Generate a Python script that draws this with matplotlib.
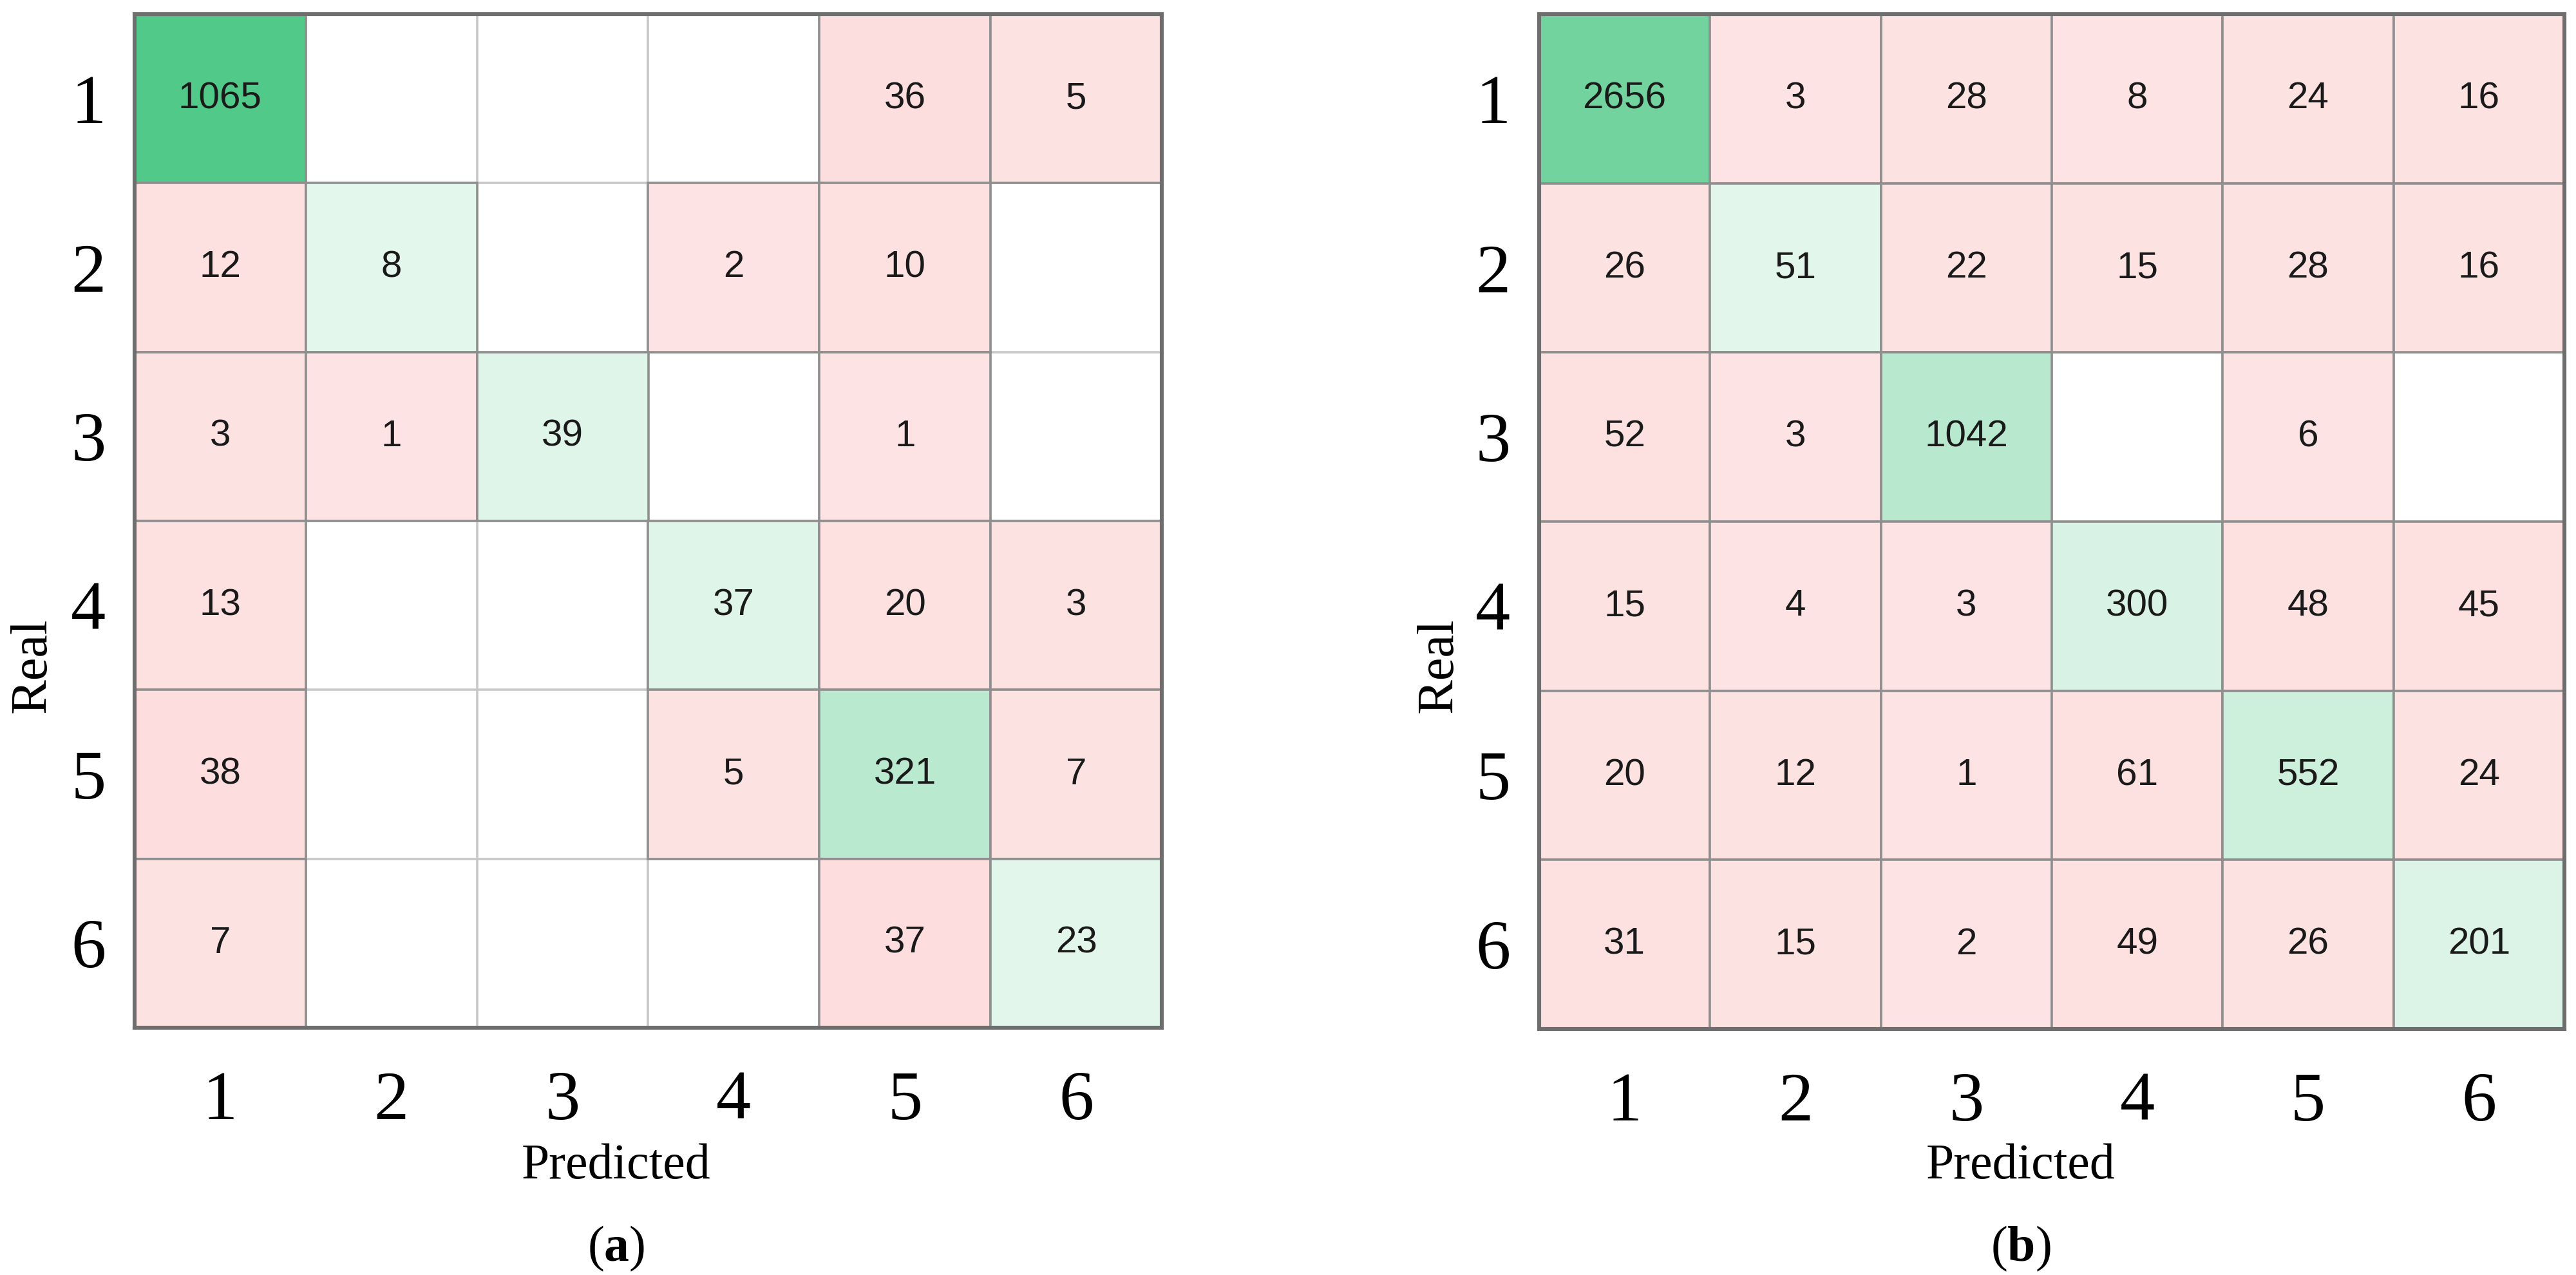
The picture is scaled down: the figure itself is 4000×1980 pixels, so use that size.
import numpy as np
import matplotlib
matplotlib.use("Agg")
import matplotlib.pyplot as plt
from matplotlib.patches import Rectangle

plt.rcParams["mathtext.fontset"] = "custom"
plt.rcParams["mathtext.rm"] = "Liberation Serif"
plt.rcParams["mathtext.bf"] = "Liberation Serif:bold"

classes = ["1", "2", "3", "4", "5", "6"]

cm_a = np.array([
    [1065, 0, 0, 0, 36, 5],
    [12, 8, 0, 2, 10, 0],
    [3, 1, 39, 0, 1, 0],
    [13, 0, 0, 37, 20, 3],
    [38, 0, 0, 5, 321, 7],
    [7, 0, 0, 0, 37, 23],
])

cm_b = np.array([
    [2656, 3, 28, 8, 24, 16],
    [26, 51, 22, 15, 28, 16],
    [52, 3, 1042, 0, 6, 0],
    [15, 4, 3, 300, 48, 45],
    [20, 12, 1, 61, 552, 24],
    [31, 15, 2, 49, 26, 201],
])

captions = ["a", "b"]
xlabel = "Predicted"
ylabel = "Real"

GREEN = np.array([20, 182, 95]) / 255.0
RED = np.array([237, 0, 0]) / 255.0
WHITE = np.ones(3)

SERIF = ["Liberation Serif", "DejaVu Serif"]
SANS = ["Liberation Sans", "DejaVu Sans"]

W, H = 4000, 1980
fig = plt.figure(figsize=(W / 200, H / 200), dpi=200)

# axes boxes in pixels (left, right, top, bottom)
boxes = [(209, 1804, 22, 1596), (2390, 3982, 22, 1598)]
label_x = [957, 3138]
real_x = [51, 2235]


def cell_color(v, total, diag):
    if v == 0:
        return WHITE
    a = 0.11 + v / total
    a = min(a, 1.0)
    base = GREEN if diag else RED
    return WHITE - a * (WHITE - base)


for k, (cm, box) in enumerate(zip([cm_a, cm_b], boxes)):
    l, r, t, b = box
    ax = fig.add_axes([l / W, 1 - b / H, (r - l) / W, (b - t) / H])
    n = cm.shape[0]
    total = cm.sum()
    ax.set_xlim(-0.5, n - 0.5)
    ax.set_ylim(n - 0.5, -0.5)
    # light background grid
    for i in range(1, n):
        ax.axhline(i - 0.5, color="#c8c8c8", lw=1.3, zorder=1)
        ax.axvline(i - 0.5, color="#c8c8c8", lw=1.3, zorder=1)
    for i in range(n):
        for j in range(n):
            v = cm[i, j]
            if v == 0:
                continue
            col = cell_color(v, total, i == j)
            ax.add_patch(Rectangle((j - 0.5, i - 0.5), 1, 1, facecolor=col,
                                   edgecolor="#8f8f8f", lw=1.3, zorder=2))
            ax.text(j, i, str(v), ha="center", va="center", fontsize=21,
                    family=SANS, color="#1a1a1a", zorder=3)
    ax.set_xticks(range(n))
    ax.set_yticks(range(n))
    ax.set_xticklabels(classes, family=SERIF, fontsize=39)
    ax.set_yticklabels(classes, family=SERIF, fontsize=39)
    ax.tick_params(length=0)
    ax.tick_params(axis="x", pad=24)
    ax.tick_params(axis="y", pad=16)
    for s in ax.spines.values():
        s.set_color("#6e6e6e")
        s.set_linewidth(2.2)
        s.set_zorder(4)

    fig.text(label_x[k] / W, 1 - 1811 / H, xlabel, ha="center", va="center",
             family=SERIF, fontsize=28)
    fig.text(real_x[k] / W, 1 - 1033 / H, ylabel, ha="center", va="center",
             rotation=90, family=SERIF, fontsize=29)
    fig.text(label_x[k] / W, 1 - 1939 / H,
             r"$\mathrm{(}\mathbf{" + captions[k] + r"}\mathrm{)}$",
             ha="center", va="center", family=SERIF, fontsize=28)

fig.savefig("out.png", dpi=200, facecolor="white")
